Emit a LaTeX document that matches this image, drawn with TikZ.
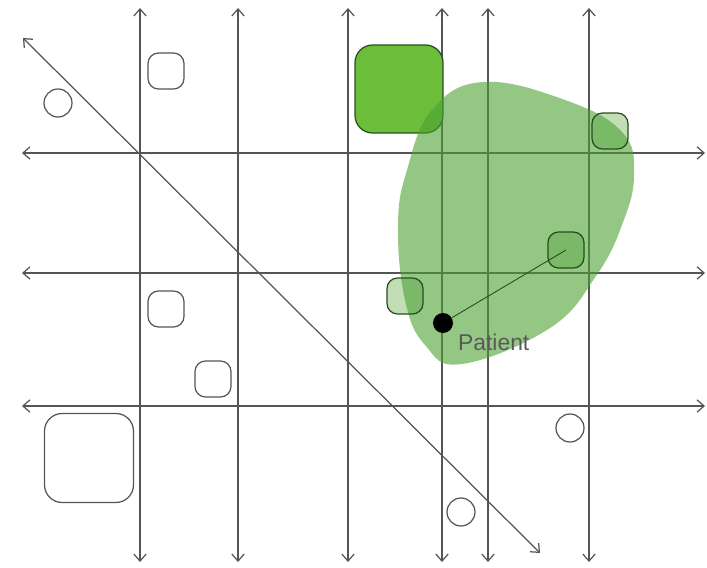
\documentclass[tikz,border=0pt]{standalone}
\usepackage{fontspec}
\setmainfont{Liberation Sans}
\usetikzlibrary{arrows.meta,positioning}
\definecolor{leafgreen}{RGB}{108,190,58}
\definecolor{blobgreen}{RGB}{76,160,50}
\definecolor{edgegreen}{RGB}{38,78,28}
\definecolor{axisgray}{RGB}{85,85,85}
\tikzset{
    axis/.style={{Straight Barb[length=4pt,width=7pt]}-{Straight Barb[length=4pt,width=7pt]}, draw=axisgray, line width=0.7pt},
    box/.style={rectangle, draw=axisgray, line width=0.7pt, rounded corners=6pt, minimum size=0.72cm, inner sep=0pt},
    ring/.style={circle, draw=axisgray, line width=0.7pt, minimum size=0.56cm, inner sep=0pt},
    greenbox/.style={box, draw=edgegreen, fill=blobgreen, fill opacity=0.35}
}

\begin{document}
\begin{tikzpicture}[
    x=0.02cm, y=-0.02cm,
    patient/.style={circle, fill=black, minimum size=0.4cm, inner sep=0pt},
    region/.style={fill=blobgreen, fill opacity=0.6}
]
\useasboundingbox (0,0) rectangle (707,568);

% Axes
\foreach \x in {140,238,348,442,488,589}
    \draw[axis] (\x,8) -- (\x,562);
\foreach \y in {153,273,406}
    \draw[axis] (22,\y) -- (705,\y);
\draw[axis] (23,38) -- (540,553);

% Boxes and rings
\node[ring] (r1) at (58,103) {};
\node[box] (b1) at (166,71) {};
\node[box] (b2) at (166,309) {};
\node[box] (b3) at (213,379) {};
\node[box, rounded corners=10pt, minimum size=1.78cm] (b4) at (89,458) {};
\node[ring] (r2) at (570,428) {};
\node[ring] (r3) at (461,512) {};
\node[box, draw=edgegreen, fill=leafgreen, rounded corners=10pt, minimum size=1.76cm] (g0) at (399,89) {};

% Region
\fill[region] plot[smooth cycle, tension=0.7] coordinates {
    (483,82) (565,100) (622,132) (634,175) (622,225) (596,276)
    (550,328) (462,364) (425,345) (405,300) (398,225) (407,170) (432,110)};

% Green boxes
\node[greenbox] (g1) at (610,131) {};
\node[greenbox] (g2) at (566,250) {};
\node[greenbox] (g3) at (405,296) {};

% Patient
\node[patient] (p) at (443,323) {};
\node[text=black!65, font=\fontsize{13}{15}\selectfont, anchor=west] (plabel) at (452,342) {Patient};
\draw[edgegreen, line width=0.5pt] (p) -- (g2.center);

\end{tikzpicture}
\end{document}
